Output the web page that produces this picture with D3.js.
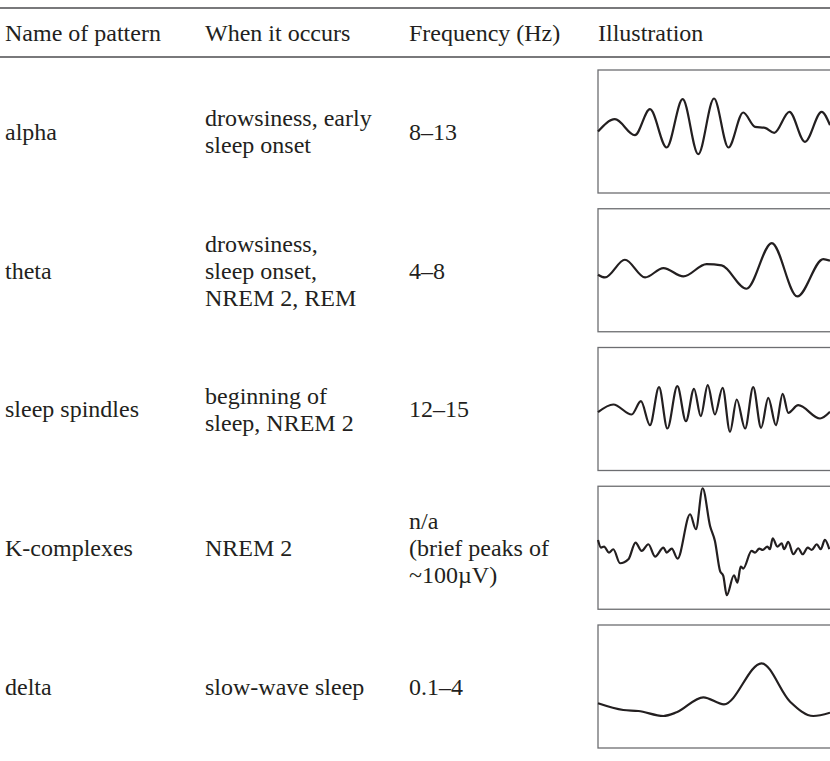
<!DOCTYPE html>
<html>
<head>
<meta charset="utf-8">
<script src="https://cdn.jsdelivr.net/npm/d3@7/dist/d3.min.js"></script>
<style>
  html, body { margin: 0; padding: 0; background: #fff; }
  svg { display: block; }
</style>
</head>
<body>
<svg id="chart" width="830" height="761"></svg>
<script>
// ---------- DATA ----------
const columns = ["Name of pattern", "When it occurs", "Frequency (Hz)", "Illustration"];
const patterns = ["alpha", "theta", "sleep spindles", "K-complexes", "delta"];
const occurs = [
  ["drowsiness, early", "sleep onset"],
  ["drowsiness,", "sleep onset,", "NREM 2, REM"],
  ["beginning of", "sleep, NREM 2"],
  ["NREM 2"],
  ["slow-wave sleep"]
];
const frequencies = [
  ["8–13"],
  ["4–8"],
  ["12–15"],
  ["n/a", "(brief peaks of", "~100µV)"],
  ["0.1–4"]
];
// waveforms: [time (% of visible width), amplitude (relative units)]
const alphaWave = [[0,0],[7.3,12.3],[15.9,-3.7],[22.4,22.3],[29.6,-16],[36.5,32.3],[43.2,-22.7],[50,33],[56.2,-16],[62.6,19],[67.7,4.7],[72,3.7],[76,-1.3],[82.5,19.7],[89.2,-10.3],[96.4,19.7],[100,6.3]];
const thetaWave = [[0,-4.5],[3,-7.2],[11.6,10.5],[20.3,-7.2],[28.2,2.2],[36.8,-6.2],[46.8,6.2],[53.3,4.8],[64,-18.5],[74.9,27.2],[85.9,-26.2],[97.1,11.2],[100,9.5]];
const spindleWave = [[0,-3.2],[6.6,4.5],[14.5,-5.5],[18.5,7.8],[22.4,-16.2],[26.3,21.8],[29.9,-19.5],[34.2,22.8],[37.9,-12.2],[41.4,20.2],[44.3,-7.2],[47.3,23.8],[50.4,-5.5],[53.7,21.2],[56.9,-22.8],[59.8,9.5],[63.4,-19.5],[66.9,21.8],[70.3,-18.8],[73.4,11.2],[76.7,-16.2],[79.6,15.2],[82,-3.8],[86.3,3.8],[95.7,-9.5],[100,-2.8]];
const kWave = [[0,7.8],[1.3,0.2],[2.6,1.2],[4.7,-4.8],[6.6,-1.5],[9.5,-15.5],[13.1,-11.5],[16.2,5.2],[18.8,-3.2],[21.7,3.5],[24.6,-8.8],[28.2,0.2],[29.6,-4.8],[31.8,-0.8],[34.3,-10.8],[39.7,33.5],[42.2,18.5],[45.1,59.5],[48.3,21.8],[50.4,6.8],[52.6,-23.2],[54,-28.2],[55.5,-47.5],[58.6,-27.5],[60.1,-34.8],[61.5,-18.8],[62.6,-20.8],[66.2,-3.2],[67.7,-4.8],[69.5,-0.8],[71,-2.2],[73,1.2],[74.1,-1.5],[75.3,9.5],[77.3,1.2],[79.2,4.5],[80.2,-1.5],[82,5.8],[84.2,-6.5],[86.3,-0.5],[88.2,-6.5],[90.4,0.2],[92.1,-2.2],[94.3,3.5],[96,-1.5],[97.8,7.8],[99.7,-1.5]];
const deltaWave = [[0,-16.8],[10.9,-23.5],[17.4,-24.5],[28.2,-29.5],[33.9,-25.8],[45.4,-10.8],[54.3,-17.8],[70.5,23.2],[82.8,-15.2],[92.8,-29.5],[100,-26.2]];
const waves = [alphaWave, thetaWave, spindleWave, kWave, deltaWave];

// ---------- LAYOUT ----------
const W = 830, H = 761;
const svg = d3.select("#chart");
const font = "'Liberation Serif', 'DejaVu Serif', serif";
const fs = 24, lh = 27;
const textColor = "#231f20";
const colPos = {"Name of pattern": 5, "When it occurs": 205, "Frequency (Hz)": 409, "Illustration": 598};

// rules
svg.append("line").attr("x1", 0).attr("x2", W).attr("y1", 8).attr("y2", 8)
  .attr("stroke", "#4d4d4f").attr("stroke-width", 1.6);
svg.append("line").attr("x1", 0).attr("x2", W).attr("y1", 57).attr("y2", 57)
  .attr("stroke", "#4d4d4f").attr("stroke-width", 1.6);

// header
svg.selectAll("text.head").data(columns).join("text")
  .attr("class", "head")
  .attr("x", d => colPos[d]).attr("y", 33)
  .attr("dy", "0.35em")
  .attr("font-family", font).attr("font-size", fs).attr("fill", textColor)
  .text(d => d);

// rows
const rowY = d3.scalePoint().domain(patterns).range([131.5, 686.5]);
const boxH = 123;
const xw = d3.scaleLinear().domain([0, 100]).range([598, 830]);

function multiline(g, lines, x, cy) {
  const n = lines.length;
  lines.forEach((l, i) => {
    g.append("text")
      .attr("x", x).attr("y", cy + (i - (n - 1) / 2) * lh)
      .attr("dy", "0.35em")
      .attr("font-family", font).attr("font-size", fs).attr("fill", textColor)
      .text(l);
  });
}

patterns.forEach((p, i) => {
  const cy = rowY(p);
  const g = svg.append("g");
  multiline(g, [p], colPos["Name of pattern"], cy);
  multiline(g, occurs[i], colPos["When it occurs"], cy);
  multiline(g, frequencies[i], colPos["Frequency (Hz)"], cy);
  g.append("rect")
    .attr("x", 598).attr("y", cy - boxH / 2)
    .attr("width", 300).attr("height", boxH)
    .attr("fill", "none").attr("stroke", "#6d6e71").attr("stroke-width", 1.3);
  const yw = d3.scaleLinear().domain([-61.5, 61.5]).range([cy + 61.5, cy - 61.5]);
  const line = d3.line().x(d => xw(d[0])).y(d => yw(d[1])).curve(d3.curveMonotoneX);
  g.append("path").datum(waves[i]).attr("d", line)
    .attr("fill", "none").attr("stroke", "#231f20").attr("stroke-width", 2.2)
    .attr("stroke-linejoin", "round");
});
</script>
</body>
</html>
